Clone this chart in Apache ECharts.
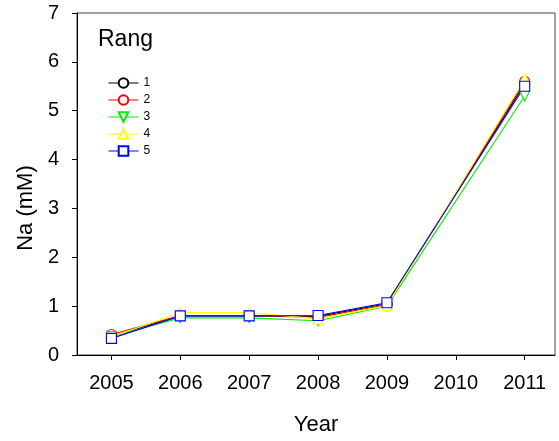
<!DOCTYPE html>
<html>
<head>
<meta charset="utf-8">
<script src="https://cdn.jsdelivr.net/npm/echarts@6/dist/echarts.min.js"></script>
<style>
  html, body { margin: 0; padding: 0; background: #fff; }
  #chart { width: 559px; height: 441px; }
</style>
</head>
<body>
<div id="chart"></div>
<script>
// Sodium concentration by year for each Rang group
const years = [2005, 2006, 2007, 2008, 2009, 2011];
const rang1 = [0.38, 0.80, 0.80, 0.79, 1.05, 5.55];
const rang2 = [0.42, 0.81, 0.81, 0.77, 1.03, 5.60];
const rang3 = [0.38, 0.76, 0.76, 0.70, 1.00, 5.30];
const rang4 = [0.37, 0.87, 0.87, 0.74, 1.01, 5.65];
const rang5 = [0.34, 0.80, 0.80, 0.81, 1.07, 5.50];
const tickYears = [2005, 2006, 2007, 2008, 2009, 2010, 2011];

const groups = [
  { name: '1', values: rang1, color: '#000000', symbol: 'circle', rotate: 0 },
  { name: '2', values: rang2, color: '#ff0000', symbol: 'circle', rotate: 0 },
  { name: '3', values: rang3, color: '#00ee00', symbol: 'triangle', rotate: 180 },
  { name: '4', values: rang4, color: '#ffff00', symbol: 'triangle', rotate: 0 },
  { name: '5', values: rang5, color: '#0000ff', symbol: 'rect', rotate: 0 }
];

const font = 'Arial, "Liberation Sans", sans-serif';
const chart = echarts.init(document.getElementById('chart'), null, { renderer: 'canvas' });

chart.setOption({
  backgroundColor: '#ffffff',
  animation: false,
  title: {
    text: 'Rang',
    left: 93, top: 23,
    textStyle: { fontFamily: font, fontSize: 23, fontWeight: 'normal', color: '#000' }
  },
  legend: {
    orient: 'vertical',
    left: 103, top: 72,
    itemWidth: 30, itemHeight: 12, itemGap: 5,
    lineStyle: { width: 1 },
    textStyle: { fontFamily: font, fontSize: 12, color: '#000' },
    data: groups.map(g => g.name)
  },
  grid: {
    left: 77, right: 4, top: 13, bottom: 82,
    show: true, borderColor: '#444', borderWidth: 1, backgroundColor: 'transparent'
  },
  xAxis: {
    type: 'value',
    min: 2004.5, max: 2011.44,
    name: 'Year', nameLocation: 'middle', nameGap: 59,
    nameTextStyle: { fontFamily: font, fontSize: 22, color: '#000' },
    axisLine: { show: true, onZero: false, lineStyle: { color: '#000', width: 1 } },
    axisTick: { show: true, inside: false, length: 5, customValues: tickYears, lineStyle: { color: '#000' } },
    axisLabel: {
      customValues: tickYears, margin: 18,
      formatter: v => String(v),
      fontFamily: font, fontSize: 20, color: '#000'
    },
    splitLine: { show: false }
  },
  yAxis: {
    type: 'value',
    min: 0, max: 7, interval: 1,
    name: 'Na (mM)', nameLocation: 'middle', nameGap: 40,
    nameTextStyle: { fontFamily: font, fontSize: 22, color: '#000', padding: [0, 48, 0, 0] },
    axisLine: { show: true, lineStyle: { color: '#000', width: 1 } },
    axisTick: { show: true, inside: false, length: 5, lineStyle: { color: '#000' } },
    axisLabel: { margin: 18, fontFamily: font, fontSize: 20, color: '#000' },
    splitLine: { show: false }
  },
  series: groups.map(g => ({
    name: g.name,
    type: 'line',
    data: years.map((y, i) => [y, g.values[i]]),
    symbol: g.symbol,
    symbolSize: 10,
    symbolRotate: g.rotate,
    showAllSymbol: true,
    color: g.color,
    lineStyle: { color: g.color, width: 1.1 },
    itemStyle: { color: '#ffffff', borderColor: g.color, borderWidth: 1.1 }
  }))
});
</script>
</body>
</html>
